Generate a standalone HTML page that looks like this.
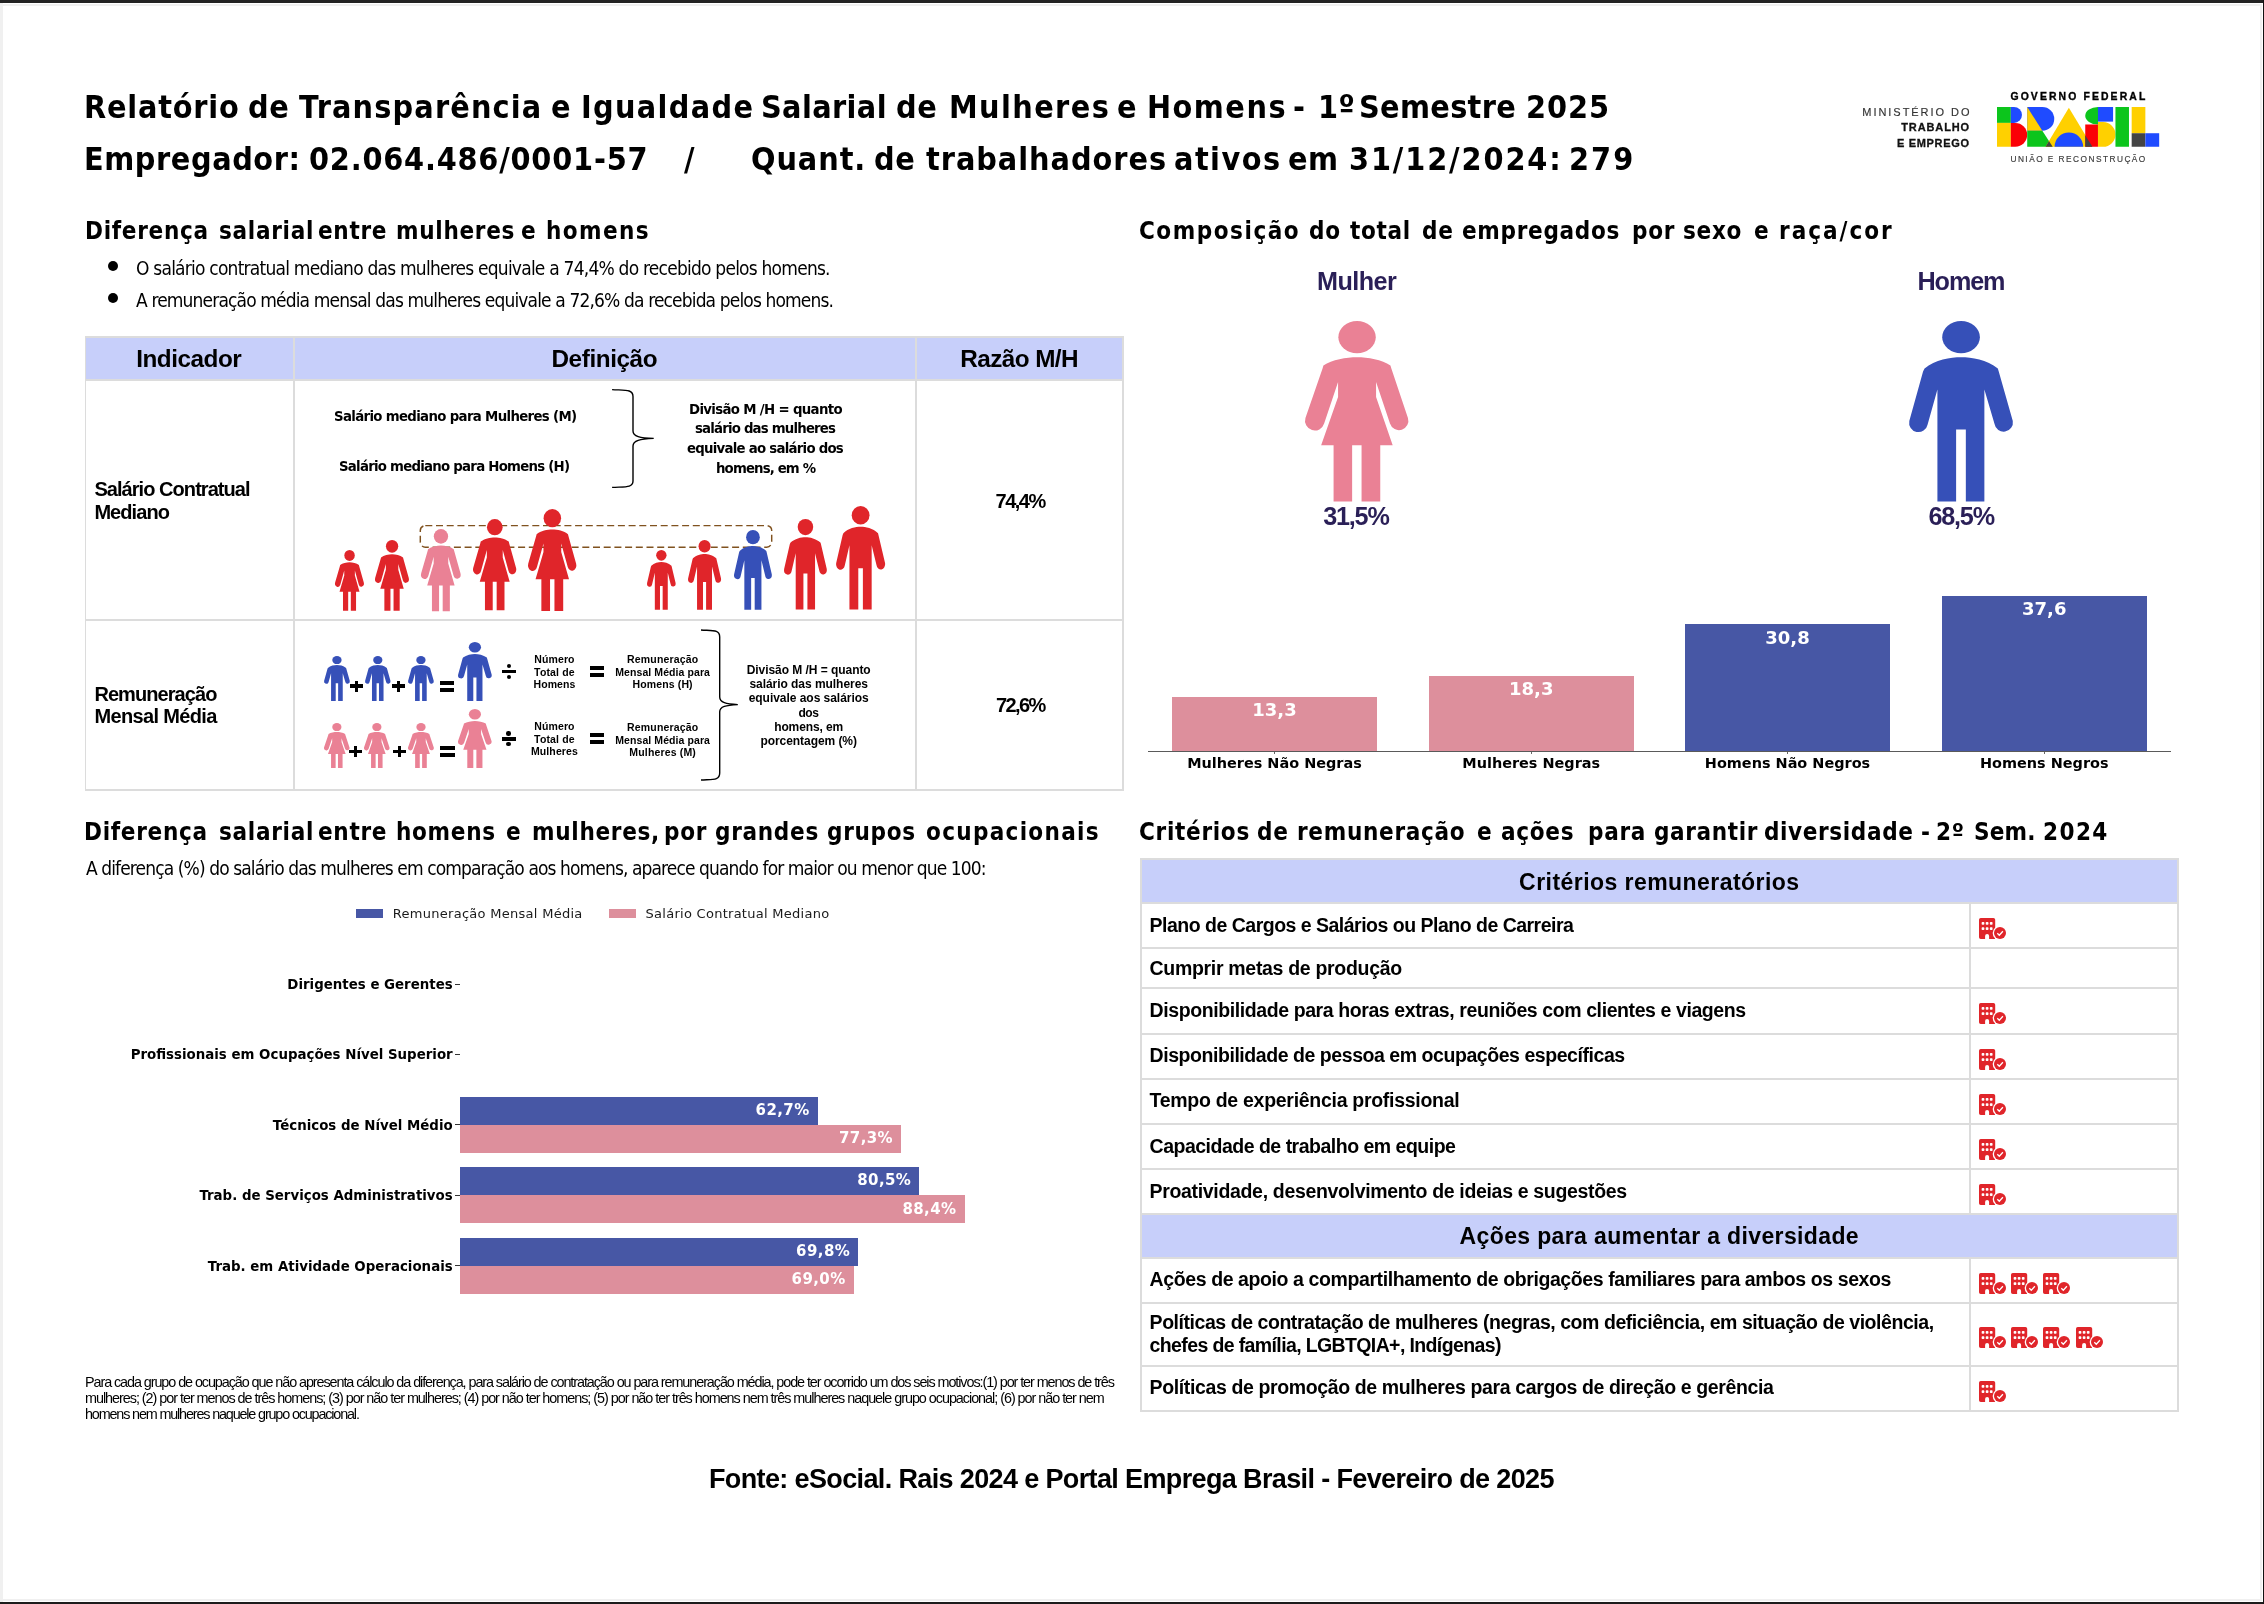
<!DOCTYPE html>
<html lang="pt-BR"><head><meta charset="utf-8"><title>Relatório de Transparência e Igualdade Salarial</title>
<style>
html,body{margin:0;padding:0;background:#fff;}
body{width:2264px;height:1604px;position:relative;overflow:hidden;font-family:"Liberation Sans",sans-serif;}
#pg{position:absolute;left:0;top:0;width:2264px;height:1604px;will-change:transform;}
.t{position:absolute;white-space:pre;display:block;}
svg{position:absolute;overflow:visible;}
</style></head><body><div id="pg">
<div style="position:absolute;left:0.00px;top:0.00px;width:2264.00px;height:3.00px;background:#222;"></div>
<div style="position:absolute;left:0.00px;top:1602.00px;width:2264.00px;height:2.00px;background:#1c1c1c;"></div>
<div style="position:absolute;left:2263.00px;top:0.00px;width:1.00px;height:1604.00px;background:#111;"></div>
<div style="position:absolute;left:0.00px;top:3.00px;width:3.00px;height:1599.00px;background:#f0f0f0;"></div>
<div style="position:absolute;left:3.00px;top:4.00px;width:2259.00px;height:2.00px;background:#f0f0f0;"></div>
<div style="position:absolute;left:3.00px;top:1599.00px;width:2259.00px;height:2.00px;background:#f0f0f0;"></div>
<div style="position:absolute;left:2260.00px;top:4.00px;width:2.00px;height:1597.00px;background:#f0f0f0;"></div>
<span class="t" style='left:84.49px;top:90.50px;font:700 32px/1 "DejaVu Sans", sans-serif;letter-spacing:0.881px;transform:scaleX(0.9);transform-origin:0 0;'>Relatório</span>
<span class="t" style='left:248.24px;top:90.50px;font:700 32px/1 "DejaVu Sans", sans-serif;letter-spacing:0.611px;transform:scaleX(0.9);transform-origin:0 0;'>de</span>
<span class="t" style='left:299.49px;top:90.50px;font:700 32px/1 "DejaVu Sans", sans-serif;letter-spacing:1.281px;transform:scaleX(0.9);transform-origin:0 0;'>Transparência</span>
<span class="t" style='left:550.74px;top:90.50px;font:700 32px/1 "DejaVu Sans", sans-serif;letter-spacing:0.611px;transform:scaleX(0.9);transform-origin:0 0;'>e</span>
<span class="t" style='left:580.74px;top:90.50px;font:700 32px/1 "DejaVu Sans", sans-serif;letter-spacing:1.483px;transform:scaleX(0.9);transform-origin:0 0;'>Igualdade</span>
<span class="t" style='left:761.24px;top:90.50px;font:700 32px/1 "DejaVu Sans", sans-serif;letter-spacing:0.422px;transform:scaleX(0.9);transform-origin:0 0;'>Salarial</span>
<span class="t" style='left:896.24px;top:90.50px;font:700 32px/1 "DejaVu Sans", sans-serif;letter-spacing:0.611px;transform:scaleX(0.9);transform-origin:0 0;'>de</span>
<span class="t" style='left:949.49px;top:90.50px;font:700 32px/1 "DejaVu Sans", sans-serif;letter-spacing:1.559px;transform:scaleX(0.9);transform-origin:0 0;'>Mulheres</span>
<span class="t" style='left:1116.99px;top:90.50px;font:700 32px/1 "DejaVu Sans", sans-serif;letter-spacing:0.611px;transform:scaleX(0.9);transform-origin:0 0;'>e</span>
<span class="t" style='left:1146.99px;top:90.50px;font:700 32px/1 "DejaVu Sans", sans-serif;letter-spacing:1.654px;transform:scaleX(0.9);transform-origin:0 0;'>Homens</span>
<span class="t" style='left:1293.24px;top:90.50px;font:700 32px/1 "DejaVu Sans", sans-serif;letter-spacing:0.611px;transform:scaleX(0.9);transform-origin:0 0;'>-</span>
<span class="t" style='left:1318.24px;top:90.50px;font:700 32px/1 "DejaVu Sans", sans-serif;letter-spacing:0.611px;transform:scaleX(0.9);transform-origin:0 0;'>1º</span>
<span class="t" style='left:1358.74px;top:90.50px;font:700 32px/1 "DejaVu Sans", sans-serif;letter-spacing:0.366px;transform:scaleX(0.9);transform-origin:0 0;'>Semestre</span>
<span class="t" style='left:1525.74px;top:90.50px;font:700 32px/1 "DejaVu Sans", sans-serif;letter-spacing:1.061px;transform:scaleX(0.9);transform-origin:0 0;'>2025</span>
<span class="t" style='left:84.49px;top:142.50px;font:700 32px/1 "DejaVu Sans", sans-serif;letter-spacing:0.646px;transform:scaleX(0.9);transform-origin:0 0;'>Empregador:</span>
<span class="t" style='left:309.49px;top:142.50px;font:700 32px/1 "DejaVu Sans", sans-serif;letter-spacing:0.890px;transform:scaleX(0.9);transform-origin:0 0;'>02.064.486/0001-57</span>
<span class="t" style='left:684.49px;top:142.50px;font:700 32px/1 "DejaVu Sans", sans-serif;letter-spacing:0.611px;transform:scaleX(0.9);transform-origin:0 0;'>/</span>
<span class="t" style='left:751.24px;top:142.50px;font:700 32px/1 "DejaVu Sans", sans-serif;letter-spacing:1.031px;transform:scaleX(0.9);transform-origin:0 0;'>Quant.</span>
<span class="t" style='left:874.49px;top:142.50px;font:700 32px/1 "DejaVu Sans", sans-serif;letter-spacing:0.611px;transform:scaleX(0.9);transform-origin:0 0;'>de</span>
<span class="t" style='left:925.74px;top:142.50px;font:700 32px/1 "DejaVu Sans", sans-serif;letter-spacing:1.063px;transform:scaleX(0.9);transform-origin:0 0;'>trabalhadores</span>
<span class="t" style='left:1174.49px;top:142.50px;font:700 32px/1 "DejaVu Sans", sans-serif;letter-spacing:1.610px;transform:scaleX(0.9);transform-origin:0 0;'>ativos</span>
<span class="t" style='left:1288.24px;top:142.50px;font:700 32px/1 "DejaVu Sans", sans-serif;letter-spacing:0.611px;transform:scaleX(0.9);transform-origin:0 0;'>em</span>
<span class="t" style='left:1349.49px;top:142.50px;font:700 32px/1 "DejaVu Sans", sans-serif;letter-spacing:2.100px;transform:scaleX(0.9);transform-origin:0 0;'>31/12/2024:</span>
<span class="t" style='left:1569.49px;top:142.50px;font:700 32px/1 "DejaVu Sans", sans-serif;letter-spacing:2.307px;transform:scaleX(0.9);transform-origin:0 0;'>279</span>
<svg style="left:1996.62px;top:107.37px" width="162.19" height="39.75" viewBox="985 235 1020 250" role="img" aria-label="BRASIL"><title>BRASIL</title>
<rect x="985" y="235" width="87" height="100" fill="#0cc51c"/>
<rect x="985" y="335" width="87" height="150" fill="#ffd000"/>
<path d="M1072 235H1092A50 50 0 0 1 1092 335H1072Z" fill="#1f4bff"/>
<path d="M1072 335H1100A75 75 0 0 1 1100 485H1072Z" fill="#fb0006"/>
<path d="M1175 235H1270A75 75 0 0 1 1270 385H1175Z" fill="#1f4bff"/>
<path d="M1175 235L1270 385H1175Z" fill="#ffd000"/>
<path d="M1175 385H1270L1335 485H1175Z" fill="#0cc51c"/>
<path d="M1437 240L1585 485H1290Z" fill="#ffd000"/>
<path d="M1290 485L1312 449L1335 485Z" fill="#444"/>
<path d="M1347 485A90 90 0 0 1 1527 485Z" fill="#1f4bff"/>
<path d="M1620 235A80 55 0 0 0 1620 345Z" fill="#0cc51c"/>
<rect x="1620" y="235" width="95" height="92" fill="#1f4bff"/>
<rect x="1540" y="345" width="80" height="140" fill="#fb0006"/>
<path d="M1540 485V412L1585 485Z" fill="#444"/>
<path d="M1620 330H1652A78 77.5 0 0 1 1652 485H1620Z" fill="#ffd000"/>
<rect x="1730" y="235" width="85" height="250" fill="#0cc51c"/>
<rect x="1832" y="235" width="86" height="165" fill="#ffd000"/>
<rect x="1832" y="400" width="86" height="85" fill="#444"/>
<rect x="1918" y="400" width="87" height="85" fill="#1f4bff"/>
</svg>
<span class="t" style='left:2010.46px;top:91.73px;font:700 10.4px/1 "Liberation Sans", sans-serif;letter-spacing:2.126px;-webkit-text-stroke:0.35px #000;'>GOVERNO FEDERAL</span>
<span class="t" style='left:2010.46px;top:154.91px;font:400 8.3px/1 "Liberation Sans", sans-serif;letter-spacing:1.468px;color:#3a3a3a;-webkit-text-stroke:0.15px #3a3a3a;'>UNIÃO E RECONSTRUÇÃO</span>
<span class="t" style='left:1862.26px;top:107.11px;font:400 11px/1 "Liberation Sans", sans-serif;letter-spacing:1.966px;color:#333;-webkit-text-stroke:0.15px #333;'>MINISTÉRIO DO</span>
<span class="t" style='left:1901.22px;top:122.22px;font:700 11px/1 "Liberation Sans", sans-serif;letter-spacing:0.883px;color:#111;-webkit-text-stroke:0.3px #111;'>TRABALHO</span>
<span class="t" style='left:1896.92px;top:137.64px;font:700 11px/1 "Liberation Sans", sans-serif;letter-spacing:0.696px;color:#111;-webkit-text-stroke:0.3px #111;'>E EMPREGO</span>
<span class="t" style='left:84.93px;top:219.25px;font:700 24px/1 "DejaVu Sans", sans-serif;letter-spacing:0.778px;transform:scaleX(0.9);transform-origin:0 0;'>Diferença</span>
<span class="t" style='left:218.68px;top:219.25px;font:700 24px/1 "DejaVu Sans", sans-serif;letter-spacing:0.778px;transform:scaleX(0.9);transform-origin:0 0;'>salarial</span>
<span class="t" style='left:318.18px;top:219.25px;font:700 24px/1 "DejaVu Sans", sans-serif;letter-spacing:0.778px;transform:scaleX(0.9);transform-origin:0 0;'>entre</span>
<span class="t" style='left:396.18px;top:219.25px;font:700 24px/1 "DejaVu Sans", sans-serif;letter-spacing:0.778px;transform:scaleX(0.9);transform-origin:0 0;'>mulheres</span>
<span class="t" style='left:521.18px;top:219.25px;font:700 24px/1 "DejaVu Sans", sans-serif;letter-spacing:0.778px;transform:scaleX(0.9);transform-origin:0 0;'>e</span>
<span class="t" style='left:546.18px;top:219.25px;font:700 24px/1 "DejaVu Sans", sans-serif;letter-spacing:1.562px;transform:scaleX(0.9);transform-origin:0 0;'>homens</span>
<div style="position:absolute;left:108px;top:261px;width:10px;height:10px;border-radius:50%;background:#000"></div>
<div style="position:absolute;left:108px;top:293px;width:10px;height:10px;border-radius:50%;background:#000"></div>
<span class="t" style='left:135.60px;top:259.00px;font:400 19px/1 "DejaVu Sans", sans-serif;letter-spacing:-0.875px;transform:scaleX(0.9);transform-origin:0 0;'>O salário contratual mediano das mulheres equivale a 74,4% do recebido pelos homens.</span>
<span class="t" style='left:136.30px;top:290.75px;font:400 19px/1 "DejaVu Sans", sans-serif;letter-spacing:-0.965px;transform:scaleX(0.9);transform-origin:0 0;'>A remuneração média mensal das mulheres equivale a 72,6% da recebida pelos homens.</span>
<div style="position:absolute;left:84.50px;top:336.20px;width:1039.50px;height:454.40px;background:#dcdcdc;"></div>
<div style="position:absolute;left:86.25px;top:337.75px;width:206.50px;height:41.25px;background:#c7cffa;"></div>
<div style="position:absolute;left:294.75px;top:337.75px;width:620.25px;height:41.25px;background:#c7cffa;"></div>
<div style="position:absolute;left:917.25px;top:337.75px;width:204.75px;height:41.25px;background:#c7cffa;"></div>
<div style="position:absolute;left:86.25px;top:380.75px;width:206.50px;height:238.25px;background:#fff;"></div>
<div style="position:absolute;left:294.75px;top:380.75px;width:620.25px;height:238.25px;background:#fff;"></div>
<div style="position:absolute;left:917.25px;top:380.75px;width:204.75px;height:238.25px;background:#fff;"></div>
<div style="position:absolute;left:86.25px;top:621.00px;width:206.50px;height:167.90px;background:#fff;"></div>
<div style="position:absolute;left:294.75px;top:621.00px;width:620.25px;height:167.90px;background:#fff;"></div>
<div style="position:absolute;left:917.25px;top:621.00px;width:204.75px;height:167.90px;background:#fff;"></div>
<span class="t" style='left:136.20px;top:347.30px;font:700 24.3px/1 "Liberation Sans", sans-serif;letter-spacing:-0.470px;'>Indicador</span>
<span class="t" style='left:551.50px;top:347.30px;font:700 24.3px/1 "Liberation Sans", sans-serif;letter-spacing:-0.422px;'>Definição</span>
<span class="t" style='left:960.25px;top:347.30px;font:700 24.3px/1 "Liberation Sans", sans-serif;letter-spacing:-0.570px;'>Razão M/H</span>
<span class="t" style='left:94.40px;top:478.60px;font:700 20px/1 "Liberation Sans", sans-serif;letter-spacing:-0.945px;'>Salário Contratual</span>
<span class="t" style='left:94.40px;top:501.60px;font:700 20px/1 "Liberation Sans", sans-serif;letter-spacing:-0.938px;'>Mediano</span>
<span class="t" style='left:94.40px;top:683.60px;font:700 20px/1 "Liberation Sans", sans-serif;letter-spacing:-0.928px;'>Remuneração</span>
<span class="t" style='left:94.40px;top:705.75px;font:700 20px/1 "Liberation Sans", sans-serif;letter-spacing:-0.641px;'>Mensal Média</span>
<span class="t" style='left:995.60px;top:491.10px;font:700 20px/1 "Liberation Sans", sans-serif;letter-spacing:-1.530px;'>74,4%</span>
<span class="t" style='left:996.00px;top:694.90px;font:700 20px/1 "Liberation Sans", sans-serif;letter-spacing:-1.630px;'>72,6%</span>
<span class="t" style='left:333.60px;top:408.70px;font:700 14.8px/1 "DejaVu Sans", sans-serif;letter-spacing:-0.737px;transform:scaleX(0.9);transform-origin:0 0;'>Salário mediano para Mulheres (M)</span>
<span class="t" style='left:339.40px;top:458.60px;font:700 14.8px/1 "DejaVu Sans", sans-serif;letter-spacing:-0.833px;transform:scaleX(0.9);transform-origin:0 0;'>Salário mediano para Homens (H)</span>
<span class="t" style='left:688.90px;top:402.00px;font:700 14.8px/1 "DejaVu Sans", sans-serif;letter-spacing:-0.739px;transform:scaleX(0.9);transform-origin:0 0;'>Divisão M /H = quanto</span>
<span class="t" style='left:695.20px;top:421.40px;font:700 14.8px/1 "DejaVu Sans", sans-serif;letter-spacing:-0.902px;transform:scaleX(0.9);transform-origin:0 0;'>salário das mulheres</span>
<span class="t" style='left:687.30px;top:441.10px;font:700 14.8px/1 "DejaVu Sans", sans-serif;letter-spacing:-0.832px;transform:scaleX(0.9);transform-origin:0 0;'>equivale ao salário dos</span>
<span class="t" style='left:715.70px;top:460.50px;font:700 14.8px/1 "DejaVu Sans", sans-serif;letter-spacing:-0.963px;transform:scaleX(0.9);transform-origin:0 0;'>homens, em %</span>
<svg style="left:0;top:0" width="2264" height="1604"><g fill="none" stroke="#000" stroke-width="1.4"><path d="M612.1 389.6C625 390.4 633 389 633 396.5L633 431C633 436.5 640 438 653.7 438.4C640 439 633 440.5 633 446L633 481C633 488 625 486.6 612.1 487.4"/><path d="M701 630C713 630.8 719.7 629.5 719.7 637L719.7 697C719.7 702.5 726 704 737.8 704.6C726 705.2 719.7 706.5 719.7 712L719.7 773C719.7 780.5 713 779.2 701 780"/></g><rect x="420.3" y="525.6" width="351.4" height="21.6" rx="5" ry="5" fill="none" stroke="#80521f" stroke-width="1.45" stroke-dasharray="7 3.7"/></svg>
<svg style="left:335.00px;top:550.00px" width="29.00" height="60.70" viewBox="0 0 1000 1000" preserveAspectRatio="none"><ellipse cx="502" cy="89.6" rx="180.4" ry="89.6" fill="#e0252a"/><path d="M177.5 247.1 C260 215 400 201.5 502 201.5 C604 201.5 744 215 824 247.1 L832 262 L992.8 537.3 A89.5 51.4 0 0 1 819.6 568.8 L685.4 338.3 L685.4 421.2 L845.6 688.2 L725.8 688.2 L725.8 1000 L545.5 1000 L545.5 688.2 L454.5 688.2 L454.5 1000 L275.6 1000 L275.6 688.2 L155.8 688.2 L318.9 421.2 L318.9 338.3 L184.7 568.8 A89.5 51.4 0 0 1 4.3 537.3 L170 262 Z" fill="#e0252a"/></svg>
<svg style="left:375.00px;top:540.00px" width="34.00" height="70.70" viewBox="0 0 1000 1000" preserveAspectRatio="none"><ellipse cx="502" cy="89.6" rx="180.4" ry="89.6" fill="#e0252a"/><path d="M177.5 247.1 C260 215 400 201.5 502 201.5 C604 201.5 744 215 824 247.1 L832 262 L992.8 537.3 A89.5 51.4 0 0 1 819.6 568.8 L685.4 338.3 L685.4 421.2 L845.6 688.2 L725.8 688.2 L725.8 1000 L545.5 1000 L545.5 688.2 L454.5 688.2 L454.5 1000 L275.6 1000 L275.6 688.2 L155.8 688.2 L318.9 421.2 L318.9 338.3 L184.7 568.8 A89.5 51.4 0 0 1 4.3 537.3 L170 262 Z" fill="#e0252a"/></svg>
<svg style="left:421.25px;top:528.50px" width="39.75" height="82.20" viewBox="0 0 1000 1000" preserveAspectRatio="none"><ellipse cx="502" cy="89.6" rx="180.4" ry="89.6" fill="#ea8195"/><path d="M177.5 247.1 C260 215 400 201.5 502 201.5 C604 201.5 744 215 824 247.1 L832 262 L992.8 537.3 A89.5 51.4 0 0 1 819.6 568.8 L685.4 338.3 L685.4 421.2 L845.6 688.2 L725.8 688.2 L725.8 1000 L545.5 1000 L545.5 688.2 L454.5 688.2 L454.5 1000 L275.6 1000 L275.6 688.2 L155.8 688.2 L318.9 421.2 L318.9 338.3 L184.7 568.8 A89.5 51.4 0 0 1 4.3 537.3 L170 262 Z" fill="#ea8195"/></svg>
<svg style="left:473.10px;top:519.40px" width="43.40" height="91.30" viewBox="0 0 1000 1000" preserveAspectRatio="none"><ellipse cx="502" cy="89.6" rx="180.4" ry="89.6" fill="#e0252a"/><path d="M177.5 247.1 C260 215 400 201.5 502 201.5 C604 201.5 744 215 824 247.1 L832 262 L992.8 537.3 A89.5 51.4 0 0 1 819.6 568.8 L685.4 338.3 L685.4 421.2 L845.6 688.2 L725.8 688.2 L725.8 1000 L545.5 1000 L545.5 688.2 L454.5 688.2 L454.5 1000 L275.6 1000 L275.6 688.2 L155.8 688.2 L318.9 421.2 L318.9 338.3 L184.7 568.8 A89.5 51.4 0 0 1 4.3 537.3 L170 262 Z" fill="#e0252a"/></svg>
<svg style="left:527.50px;top:508.75px" width="48.50" height="101.95" viewBox="0 0 1000 1000" preserveAspectRatio="none"><ellipse cx="502" cy="89.6" rx="180.4" ry="89.6" fill="#e0252a"/><path d="M177.5 247.1 C260 215 400 201.5 502 201.5 C604 201.5 744 215 824 247.1 L832 262 L992.8 537.3 A89.5 51.4 0 0 1 819.6 568.8 L685.4 338.3 L685.4 421.2 L845.6 688.2 L725.8 688.2 L725.8 1000 L545.5 1000 L545.5 688.2 L454.5 688.2 L454.5 1000 L275.6 1000 L275.6 688.2 L155.8 688.2 L318.9 421.2 L318.9 338.3 L184.7 568.8 A89.5 51.4 0 0 1 4.3 537.3 L170 262 Z" fill="#e0252a"/></svg>
<svg style="left:646.90px;top:549.75px" width="28.70" height="59.65" viewBox="0 0 1000 1000" preserveAspectRatio="none"><ellipse cx="500" cy="89.6" rx="181" ry="89.6" fill="#e0252a"/><path d="M149.4 263.7 C250 215 400 201.5 500 201.5 C600 201.5 750 215 853.4 263.7 L862.1 280.3 L997.1 553.9 A86.2 49.8 0 0 1 821.8 570.5 L724.1 379.8 L724.1 1000 L546 1000 L546 602 L452.6 602 L452.6 1000 L273 1000 L273 379.8 L178.2 574.6 A86.2 49.8 0 0 1 2.9 553.9 L135.1 280.3 Z" fill="#e0252a"/></svg>
<svg style="left:688.10px;top:539.75px" width="33.15" height="69.65" viewBox="0 0 1000 1000" preserveAspectRatio="none"><ellipse cx="500" cy="89.6" rx="181" ry="89.6" fill="#e0252a"/><path d="M149.4 263.7 C250 215 400 201.5 500 201.5 C600 201.5 750 215 853.4 263.7 L862.1 280.3 L997.1 553.9 A86.2 49.8 0 0 1 821.8 570.5 L724.1 379.8 L724.1 1000 L546 1000 L546 602 L452.6 602 L452.6 1000 L273 1000 L273 379.8 L178.2 574.6 A86.2 49.8 0 0 1 2.9 553.9 L135.1 280.3 Z" fill="#e0252a"/></svg>
<svg style="left:734.00px;top:529.60px" width="37.90" height="79.80" viewBox="0 0 1000 1000" preserveAspectRatio="none"><ellipse cx="500" cy="89.6" rx="181" ry="89.6" fill="#3650b8"/><path d="M149.4 263.7 C250 215 400 201.5 500 201.5 C600 201.5 750 215 853.4 263.7 L862.1 280.3 L997.1 553.9 A86.2 49.8 0 0 1 821.8 570.5 L724.1 379.8 L724.1 1000 L546 1000 L546 602 L452.6 602 L452.6 1000 L273 1000 L273 379.8 L178.2 574.6 A86.2 49.8 0 0 1 2.9 553.9 L135.1 280.3 Z" fill="#3650b8"/></svg>
<svg style="left:784.00px;top:519.00px" width="42.90" height="90.40" viewBox="0 0 1000 1000" preserveAspectRatio="none"><ellipse cx="500" cy="89.6" rx="181" ry="89.6" fill="#e0252a"/><path d="M149.4 263.7 C250 215 400 201.5 500 201.5 C600 201.5 750 215 853.4 263.7 L862.1 280.3 L997.1 553.9 A86.2 49.8 0 0 1 821.8 570.5 L724.1 379.8 L724.1 1000 L546 1000 L546 602 L452.6 602 L452.6 1000 L273 1000 L273 379.8 L178.2 574.6 A86.2 49.8 0 0 1 2.9 553.9 L135.1 280.3 Z" fill="#e0252a"/></svg>
<svg style="left:836.00px;top:505.90px" width="49.25" height="103.50" viewBox="0 0 1000 1000" preserveAspectRatio="none"><ellipse cx="500" cy="89.6" rx="181" ry="89.6" fill="#e0252a"/><path d="M149.4 263.7 C250 215 400 201.5 500 201.5 C600 201.5 750 215 853.4 263.7 L862.1 280.3 L997.1 553.9 A86.2 49.8 0 0 1 821.8 570.5 L724.1 379.8 L724.1 1000 L546 1000 L546 602 L452.6 602 L452.6 1000 L273 1000 L273 379.8 L178.2 574.6 A86.2 49.8 0 0 1 2.9 553.9 L135.1 280.3 Z" fill="#e0252a"/></svg>
<svg style="left:324.10px;top:655.90px" width="25.90" height="45.10" viewBox="0 0 1000 1000" preserveAspectRatio="none"><ellipse cx="500" cy="89.6" rx="181" ry="89.6" fill="#3650b8"/><path d="M149.4 263.7 C250 215 400 201.5 500 201.5 C600 201.5 750 215 853.4 263.7 L862.1 280.3 L997.1 553.9 A86.2 49.8 0 0 1 821.8 570.5 L724.1 379.8 L724.1 1000 L546 1000 L546 602 L452.6 602 L452.6 1000 L273 1000 L273 379.8 L178.2 574.6 A86.2 49.8 0 0 1 2.9 553.9 L135.1 280.3 Z" fill="#3650b8"/></svg>
<svg style="left:365.00px;top:655.90px" width="25.60" height="45.10" viewBox="0 0 1000 1000" preserveAspectRatio="none"><ellipse cx="500" cy="89.6" rx="181" ry="89.6" fill="#3650b8"/><path d="M149.4 263.7 C250 215 400 201.5 500 201.5 C600 201.5 750 215 853.4 263.7 L862.1 280.3 L997.1 553.9 A86.2 49.8 0 0 1 821.8 570.5 L724.1 379.8 L724.1 1000 L546 1000 L546 602 L452.6 602 L452.6 1000 L273 1000 L273 379.8 L178.2 574.6 A86.2 49.8 0 0 1 2.9 553.9 L135.1 280.3 Z" fill="#3650b8"/></svg>
<svg style="left:407.90px;top:655.90px" width="25.85" height="45.10" viewBox="0 0 1000 1000" preserveAspectRatio="none"><ellipse cx="500" cy="89.6" rx="181" ry="89.6" fill="#3650b8"/><path d="M149.4 263.7 C250 215 400 201.5 500 201.5 C600 201.5 750 215 853.4 263.7 L862.1 280.3 L997.1 553.9 A86.2 49.8 0 0 1 821.8 570.5 L724.1 379.8 L724.1 1000 L546 1000 L546 602 L452.6 602 L452.6 1000 L273 1000 L273 379.8 L178.2 574.6 A86.2 49.8 0 0 1 2.9 553.9 L135.1 280.3 Z" fill="#3650b8"/></svg>
<svg style="left:458.10px;top:641.90px" width="33.80" height="59.00" viewBox="0 0 1000 1000" preserveAspectRatio="none"><ellipse cx="500" cy="89.6" rx="181" ry="89.6" fill="#3650b8"/><path d="M149.4 263.7 C250 215 400 201.5 500 201.5 C600 201.5 750 215 853.4 263.7 L862.1 280.3 L997.1 553.9 A86.2 49.8 0 0 1 821.8 570.5 L724.1 379.8 L724.1 1000 L546 1000 L546 602 L452.6 602 L452.6 1000 L273 1000 L273 379.8 L178.2 574.6 A86.2 49.8 0 0 1 2.9 553.9 L135.1 280.3 Z" fill="#3650b8"/></svg>
<svg style="left:323.50px;top:723.10px" width="25.60" height="45.00" viewBox="0 0 1000 1000" preserveAspectRatio="none"><ellipse cx="502" cy="89.6" rx="180.4" ry="89.6" fill="#ea8195"/><path d="M177.5 247.1 C260 215 400 201.5 502 201.5 C604 201.5 744 215 824 247.1 L832 262 L992.8 537.3 A89.5 51.4 0 0 1 819.6 568.8 L685.4 338.3 L685.4 421.2 L845.6 688.2 L725.8 688.2 L725.8 1000 L545.5 1000 L545.5 688.2 L454.5 688.2 L454.5 1000 L275.6 1000 L275.6 688.2 L155.8 688.2 L318.9 421.2 L318.9 338.3 L184.7 568.8 A89.5 51.4 0 0 1 4.3 537.3 L170 262 Z" fill="#ea8195"/></svg>
<svg style="left:364.40px;top:723.10px" width="25.60" height="45.00" viewBox="0 0 1000 1000" preserveAspectRatio="none"><ellipse cx="502" cy="89.6" rx="180.4" ry="89.6" fill="#ea8195"/><path d="M177.5 247.1 C260 215 400 201.5 502 201.5 C604 201.5 744 215 824 247.1 L832 262 L992.8 537.3 A89.5 51.4 0 0 1 819.6 568.8 L685.4 338.3 L685.4 421.2 L845.6 688.2 L725.8 688.2 L725.8 1000 L545.5 1000 L545.5 688.2 L454.5 688.2 L454.5 1000 L275.6 1000 L275.6 688.2 L155.8 688.2 L318.9 421.2 L318.9 338.3 L184.7 568.8 A89.5 51.4 0 0 1 4.3 537.3 L170 262 Z" fill="#ea8195"/></svg>
<svg style="left:408.10px;top:723.10px" width="25.90" height="45.00" viewBox="0 0 1000 1000" preserveAspectRatio="none"><ellipse cx="502" cy="89.6" rx="180.4" ry="89.6" fill="#ea8195"/><path d="M177.5 247.1 C260 215 400 201.5 502 201.5 C604 201.5 744 215 824 247.1 L832 262 L992.8 537.3 A89.5 51.4 0 0 1 819.6 568.8 L685.4 338.3 L685.4 421.2 L845.6 688.2 L725.8 688.2 L725.8 1000 L545.5 1000 L545.5 688.2 L454.5 688.2 L454.5 1000 L275.6 1000 L275.6 688.2 L155.8 688.2 L318.9 421.2 L318.9 338.3 L184.7 568.8 A89.5 51.4 0 0 1 4.3 537.3 L170 262 Z" fill="#ea8195"/></svg>
<svg style="left:457.90px;top:709.00px" width="33.70" height="59.10" viewBox="0 0 1000 1000" preserveAspectRatio="none"><ellipse cx="502" cy="89.6" rx="180.4" ry="89.6" fill="#ea8195"/><path d="M177.5 247.1 C260 215 400 201.5 502 201.5 C604 201.5 744 215 824 247.1 L832 262 L992.8 537.3 A89.5 51.4 0 0 1 819.6 568.8 L685.4 338.3 L685.4 421.2 L845.6 688.2 L725.8 688.2 L725.8 1000 L545.5 1000 L545.5 688.2 L454.5 688.2 L454.5 1000 L275.6 1000 L275.6 688.2 L155.8 688.2 L318.9 421.2 L318.9 338.3 L184.7 568.8 A89.5 51.4 0 0 1 4.3 537.3 L170 262 Z" fill="#ea8195"/></svg>
<div style="position:absolute;left:350.30px;top:684.35px;width:12.60px;height:3.80px;background:#000;"></div>
<div style="position:absolute;left:354.70px;top:680.65px;width:3.80px;height:11.20px;background:#000;"></div>
<div style="position:absolute;left:392.20px;top:684.35px;width:12.60px;height:3.80px;background:#000;"></div>
<div style="position:absolute;left:396.60px;top:680.65px;width:3.80px;height:11.20px;background:#000;"></div>
<div style="position:absolute;left:440.20px;top:680.60px;width:14.20px;height:4.00px;background:#000;"></div>
<div style="position:absolute;left:440.20px;top:687.70px;width:14.20px;height:4.00px;background:#000;"></div>
<div style="position:absolute;left:501.75px;top:669.70px;width:14.00px;height:3.80px;background:#000;"></div>
<div style="position:absolute;left:506.55px;top:664.10px;width:4.4px;height:4.4px;border-radius:50%;background:#000"></div>
<div style="position:absolute;left:506.55px;top:674.70px;width:4.4px;height:4.4px;border-radius:50%;background:#000"></div>
<div style="position:absolute;left:590.10px;top:666.00px;width:14.20px;height:4.00px;background:#000;"></div>
<div style="position:absolute;left:590.10px;top:673.10px;width:14.20px;height:4.00px;background:#000;"></div>
<div style="position:absolute;left:349.30px;top:749.60px;width:12.60px;height:3.80px;background:#000;"></div>
<div style="position:absolute;left:353.70px;top:745.90px;width:3.80px;height:11.20px;background:#000;"></div>
<div style="position:absolute;left:393.10px;top:749.60px;width:12.60px;height:3.80px;background:#000;"></div>
<div style="position:absolute;left:397.50px;top:745.90px;width:3.80px;height:11.20px;background:#000;"></div>
<div style="position:absolute;left:440.40px;top:745.80px;width:14.20px;height:4.00px;background:#000;"></div>
<div style="position:absolute;left:440.40px;top:752.90px;width:14.20px;height:4.00px;background:#000;"></div>
<div style="position:absolute;left:501.50px;top:736.85px;width:14.00px;height:3.80px;background:#000;"></div>
<div style="position:absolute;left:506.30px;top:731.25px;width:4.4px;height:4.4px;border-radius:50%;background:#000"></div>
<div style="position:absolute;left:506.30px;top:741.85px;width:4.4px;height:4.4px;border-radius:50%;background:#000"></div>
<div style="position:absolute;left:590.10px;top:733.30px;width:14.20px;height:4.00px;background:#000;"></div>
<div style="position:absolute;left:590.10px;top:740.40px;width:14.20px;height:4.00px;background:#000;"></div>
<span class="t" style='left:534.27px;top:653.75px;font:700 10.5px/1 "Liberation Sans", sans-serif;letter-spacing:0.113px;'>Número</span>
<span class="t" style='left:534.10px;top:666.60px;font:700 10.5px/1 "Liberation Sans", sans-serif;letter-spacing:0.159px;'>Total de</span>
<span class="t" style='left:533.52px;top:678.75px;font:700 10.5px/1 "Liberation Sans", sans-serif;letter-spacing:0.062px;'>Homens</span>
<span class="t" style='left:534.27px;top:720.75px;font:700 10.5px/1 "Liberation Sans", sans-serif;letter-spacing:0.113px;'>Número</span>
<span class="t" style='left:534.10px;top:733.50px;font:700 10.5px/1 "Liberation Sans", sans-serif;letter-spacing:0.159px;'>Total de</span>
<span class="t" style='left:530.90px;top:746.40px;font:700 10.5px/1 "Liberation Sans", sans-serif;letter-spacing:0.127px;'>Mulheres</span>
<span class="t" style='left:627.10px;top:654.10px;font:700 10.5px/1 "Liberation Sans", sans-serif;letter-spacing:0.155px;'>Remuneração</span>
<span class="t" style='left:615.25px;top:667.00px;font:700 10.5px/1 "Liberation Sans", sans-serif;letter-spacing:0.083px;'>Mensal Média para</span>
<span class="t" style='left:632.60px;top:679.10px;font:700 10.5px/1 "Liberation Sans", sans-serif;letter-spacing:0.120px;'>Homens (H)</span>
<span class="t" style='left:627.10px;top:722.20px;font:700 10.5px/1 "Liberation Sans", sans-serif;letter-spacing:0.155px;'>Remuneração</span>
<span class="t" style='left:615.25px;top:735.40px;font:700 10.5px/1 "Liberation Sans", sans-serif;letter-spacing:0.083px;'>Mensal Média para</span>
<span class="t" style='left:629.35px;top:746.90px;font:700 10.5px/1 "Liberation Sans", sans-serif;letter-spacing:0.158px;'>Mulheres (M)</span>
<span class="t" style='left:746.70px;top:663.70px;font:700 12px/1 "Liberation Sans", sans-serif;letter-spacing:-0.051px;'>Divisão M /H = quanto</span>
<span class="t" style='left:749.45px;top:677.98px;font:700 12px/1 "Liberation Sans", sans-serif;letter-spacing:-0.047px;'>salário das mulheres</span>
<span class="t" style='left:748.70px;top:692.26px;font:700 12px/1 "Liberation Sans", sans-serif;letter-spacing:-0.037px;'>equivale aos salários</span>
<span class="t" style='left:798.45px;top:706.54px;font:700 12px/1 "Liberation Sans", sans-serif;letter-spacing:-0.422px;'>dos</span>
<span class="t" style='left:774.20px;top:720.82px;font:700 12px/1 "Liberation Sans", sans-serif;letter-spacing:-0.115px;'>homens, em</span>
<span class="t" style='left:760.45px;top:735.10px;font:700 12px/1 "Liberation Sans", sans-serif;letter-spacing:-0.061px;'>porcentagem (%)</span>
<span class="t" style='left:1139.18px;top:219.25px;font:700 24px/1 "DejaVu Sans", sans-serif;letter-spacing:1.686px;transform:scaleX(0.9);transform-origin:0 0;'>Composição</span>
<span class="t" style='left:1308.68px;top:219.25px;font:700 24px/1 "DejaVu Sans", sans-serif;letter-spacing:0.778px;transform:scaleX(0.9);transform-origin:0 0;'>do</span>
<span class="t" style='left:1350.28px;top:219.25px;font:700 24px/1 "DejaVu Sans", sans-serif;letter-spacing:0.778px;transform:scaleX(0.9);transform-origin:0 0;'>total</span>
<span class="t" style='left:1421.68px;top:219.25px;font:700 24px/1 "DejaVu Sans", sans-serif;letter-spacing:0.778px;transform:scaleX(0.9);transform-origin:0 0;'>de</span>
<span class="t" style='left:1462.43px;top:219.25px;font:700 24px/1 "DejaVu Sans", sans-serif;letter-spacing:0.778px;transform:scaleX(0.9);transform-origin:0 0;'>empregados</span>
<span class="t" style='left:1632.43px;top:219.25px;font:700 24px/1 "DejaVu Sans", sans-serif;letter-spacing:0.778px;transform:scaleX(0.9);transform-origin:0 0;'>por</span>
<span class="t" style='left:1683.18px;top:219.25px;font:700 24px/1 "DejaVu Sans", sans-serif;letter-spacing:0.778px;transform:scaleX(0.9);transform-origin:0 0;'>sexo</span>
<span class="t" style='left:1753.68px;top:219.25px;font:700 24px/1 "DejaVu Sans", sans-serif;letter-spacing:0.778px;transform:scaleX(0.9);transform-origin:0 0;'>e</span>
<span class="t" style='left:1778.68px;top:219.25px;font:700 24px/1 "DejaVu Sans", sans-serif;letter-spacing:2.196px;transform:scaleX(0.9);transform-origin:0 0;'>raça/cor</span>
<span class="t" style='left:1317.03px;top:269.00px;font:700 25.2px/1 "Liberation Sans", sans-serif;letter-spacing:-0.562px;color:#2a1f57;'>Mulher</span>
<span class="t" style='left:1917.50px;top:269.00px;font:700 25.2px/1 "Liberation Sans", sans-serif;letter-spacing:-1.094px;color:#2a1f57;'>Homem</span>
<svg style="left:1304.50px;top:321.20px" width="103.70" height="180.40" viewBox="0 0 1000 1000" preserveAspectRatio="none"><ellipse cx="502" cy="89.6" rx="180.4" ry="89.6" fill="#ea8195"/><path d="M177.5 247.1 C260 215 400 201.5 502 201.5 C604 201.5 744 215 824 247.1 L832 262 L992.8 537.3 A89.5 51.4 0 0 1 819.6 568.8 L685.4 338.3 L685.4 421.2 L845.6 688.2 L725.8 688.2 L725.8 1000 L545.5 1000 L545.5 688.2 L454.5 688.2 L454.5 1000 L275.6 1000 L275.6 688.2 L155.8 688.2 L318.9 421.2 L318.9 338.3 L184.7 568.8 A89.5 51.4 0 0 1 4.3 537.3 L170 262 Z" fill="#ea8195"/></svg>
<svg style="left:1909.10px;top:321.20px" width="104.10" height="180.40" viewBox="0 0 1000 1000" preserveAspectRatio="none"><ellipse cx="500" cy="89.6" rx="181" ry="89.6" fill="#3650b8"/><path d="M149.4 263.7 C250 215 400 201.5 500 201.5 C600 201.5 750 215 853.4 263.7 L862.1 280.3 L997.1 553.9 A86.2 49.8 0 0 1 821.8 570.5 L724.1 379.8 L724.1 1000 L546 1000 L546 602 L452.6 602 L452.6 1000 L273 1000 L273 379.8 L178.2 574.6 A86.2 49.8 0 0 1 2.9 553.9 L135.1 280.3 Z" fill="#3650b8"/></svg>
<span class="t" style='left:1323.15px;top:504.10px;font:700 25.2px/1 "Liberation Sans", sans-serif;letter-spacing:-1.180px;color:#2a1f57;'>31,5%</span>
<span class="t" style='left:1928.55px;top:504.10px;font:700 25.2px/1 "Liberation Sans", sans-serif;letter-spacing:-1.230px;color:#2a1f57;'>68,5%</span>
<div style="position:absolute;left:1172.00px;top:696.50px;width:205.00px;height:54.50px;background:#dd8f9c;"></div>
<span class="t" style='left:1252.29px;top:700.90px;font:700 18px/1 "DejaVu Sans", sans-serif;color:#fff;'>13,3</span>
<span class="t" style='left:1187.18px;top:755.50px;font:700 14.45px/1 "DejaVu Sans", sans-serif;'>Mulheres Não Negras</span>
<div style="position:absolute;left:1274.00px;top:751.50px;width:1.00px;height:2.20px;background:#666;"></div>
<div style="position:absolute;left:1428.75px;top:676.00px;width:205.00px;height:75.00px;background:#dd8f9c;"></div>
<span class="t" style='left:1509.04px;top:680.40px;font:700 18px/1 "DejaVu Sans", sans-serif;color:#fff;'>18,3</span>
<span class="t" style='left:1462.31px;top:755.50px;font:700 14.45px/1 "DejaVu Sans", sans-serif;'>Mulheres Negras</span>
<div style="position:absolute;left:1530.75px;top:751.50px;width:1.00px;height:2.20px;background:#666;"></div>
<div style="position:absolute;left:1685.00px;top:624.25px;width:205.00px;height:126.75px;background:#4757a5;"></div>
<span class="t" style='left:1765.29px;top:628.65px;font:700 18px/1 "DejaVu Sans", sans-serif;color:#fff;'>30,8</span>
<span class="t" style='left:1704.82px;top:755.50px;font:700 14.45px/1 "DejaVu Sans", sans-serif;'>Homens Não Negros</span>
<div style="position:absolute;left:1787.00px;top:751.50px;width:1.00px;height:2.20px;background:#666;"></div>
<div style="position:absolute;left:1941.75px;top:596.00px;width:205.00px;height:155.00px;background:#4757a5;"></div>
<span class="t" style='left:2022.04px;top:600.40px;font:700 18px/1 "DejaVu Sans", sans-serif;color:#fff;'>37,6</span>
<span class="t" style='left:1979.96px;top:755.50px;font:700 14.45px/1 "DejaVu Sans", sans-serif;'>Homens Negros</span>
<div style="position:absolute;left:2043.75px;top:751.50px;width:1.00px;height:2.20px;background:#666;"></div>
<div style="position:absolute;left:1147.50px;top:750.70px;width:1023.80px;height:1.10px;background:#5a5a5a;"></div>
<span class="t" style='left:84.43px;top:819.80px;font:700 24px/1 "DejaVu Sans", sans-serif;letter-spacing:0.778px;transform:scaleX(0.9);transform-origin:0 0;'>Diferença</span>
<span class="t" style='left:218.68px;top:819.80px;font:700 24px/1 "DejaVu Sans", sans-serif;letter-spacing:0.778px;transform:scaleX(0.9);transform-origin:0 0;'>salarial</span>
<span class="t" style='left:318.18px;top:819.80px;font:700 24px/1 "DejaVu Sans", sans-serif;letter-spacing:0.778px;transform:scaleX(0.9);transform-origin:0 0;'>entre</span>
<span class="t" style='left:396.18px;top:819.80px;font:700 24px/1 "DejaVu Sans", sans-serif;letter-spacing:0.778px;transform:scaleX(0.9);transform-origin:0 0;'>homens</span>
<span class="t" style='left:506.18px;top:819.80px;font:700 24px/1 "DejaVu Sans", sans-serif;letter-spacing:0.778px;transform:scaleX(0.9);transform-origin:0 0;'>e</span>
<span class="t" style='left:531.68px;top:819.80px;font:700 24px/1 "DejaVu Sans", sans-serif;letter-spacing:0.778px;transform:scaleX(0.9);transform-origin:0 0;'>mulheres,</span>
<span class="t" style='left:664.18px;top:819.80px;font:700 24px/1 "DejaVu Sans", sans-serif;letter-spacing:0.778px;transform:scaleX(0.9);transform-origin:0 0;'>por</span>
<span class="t" style='left:714.93px;top:819.80px;font:700 24px/1 "DejaVu Sans", sans-serif;letter-spacing:0.778px;transform:scaleX(0.9);transform-origin:0 0;'>grandes</span>
<span class="t" style='left:827.43px;top:819.80px;font:700 24px/1 "DejaVu Sans", sans-serif;letter-spacing:0.778px;transform:scaleX(0.9);transform-origin:0 0;'>grupos</span>
<span class="t" style='left:926.18px;top:819.80px;font:700 24px/1 "DejaVu Sans", sans-serif;letter-spacing:1.445px;transform:scaleX(0.9);transform-origin:0 0;'>ocupacionais</span>
<span class="t" style='left:85.60px;top:858.90px;font:400 19px/1 "DejaVu Sans", sans-serif;letter-spacing:-1.004px;transform:scaleX(0.9);transform-origin:0 0;'>A diferença (%) do salário das mulheres em comparação aos homens, aparece quando for maior ou menor que 100:</span>
<div style="position:absolute;left:355.80px;top:909.00px;width:27.10px;height:9.00px;background:#4757a5;"></div>
<div style="position:absolute;left:609.00px;top:909.00px;width:27.10px;height:9.00px;background:#dd8f9c;"></div>
<span class="t" style='left:392.80px;top:907.00px;font:400 13px/1 "DejaVu Sans", sans-serif;letter-spacing:0.279px;color:#1a1a1a;'>Remuneração Mensal Média</span>
<span class="t" style='left:645.60px;top:907.00px;font:400 13px/1 "DejaVu Sans", sans-serif;letter-spacing:0.268px;color:#1a1a1a;'>Salário Contratual Mediano</span>
<span class="t" style='left:287.37px;top:977.70px;font:700 13.36px/1 "DejaVu Sans", sans-serif;'>Dirigentes e Gerentes</span>
<div style="position:absolute;left:455.40px;top:983.50px;width:4.30px;height:1.10px;background:#333;"></div>
<span class="t" style='left:130.65px;top:1048.15px;font:700 13.36px/1 "DejaVu Sans", sans-serif;'>Profissionais em Ocupações Nível Superior</span>
<div style="position:absolute;left:455.40px;top:1053.95px;width:4.30px;height:1.10px;background:#333;"></div>
<span class="t" style='left:272.87px;top:1118.60px;font:700 13.36px/1 "DejaVu Sans", sans-serif;'>Técnicos de Nível Médio</span>
<div style="position:absolute;left:455.40px;top:1124.40px;width:4.30px;height:1.10px;background:#333;"></div>
<span class="t" style='left:199.39px;top:1189.05px;font:700 13.36px/1 "DejaVu Sans", sans-serif;'>Trab. de Serviços Administrativos</span>
<div style="position:absolute;left:455.40px;top:1194.85px;width:4.30px;height:1.10px;background:#333;"></div>
<span class="t" style='left:207.76px;top:1259.50px;font:700 13.36px/1 "DejaVu Sans", sans-serif;'>Trab. em Atividade Operacionais</span>
<div style="position:absolute;left:455.40px;top:1265.30px;width:4.30px;height:1.10px;background:#333;"></div>
<div style="position:absolute;left:459.50px;top:1096.90px;width:358.21px;height:27.90px;background:#4757a5;"></div>
<div style="position:absolute;left:459.50px;top:1124.80px;width:441.61px;height:28.10px;background:#dd8f9c;"></div>
<span class="t" style='left:755.56px;top:1103.00px;font:700 15px/1 "DejaVu Sans", sans-serif;letter-spacing:0.400px;color:#fff;'>62,7%</span>
<span class="t" style='left:838.97px;top:1131.20px;font:700 15px/1 "DejaVu Sans", sans-serif;letter-spacing:0.400px;color:#fff;'>77,3%</span>
<div style="position:absolute;left:459.50px;top:1167.35px;width:459.90px;height:27.90px;background:#4757a5;"></div>
<div style="position:absolute;left:459.50px;top:1195.25px;width:505.03px;height:28.10px;background:#dd8f9c;"></div>
<span class="t" style='left:857.25px;top:1173.45px;font:700 15px/1 "DejaVu Sans", sans-serif;letter-spacing:0.400px;color:#fff;'>80,5%</span>
<span class="t" style='left:902.38px;top:1201.65px;font:700 15px/1 "DejaVu Sans", sans-serif;letter-spacing:0.400px;color:#fff;'>88,4%</span>
<div style="position:absolute;left:459.50px;top:1237.80px;width:398.77px;height:27.90px;background:#4757a5;"></div>
<div style="position:absolute;left:459.50px;top:1265.70px;width:394.20px;height:28.10px;background:#dd8f9c;"></div>
<span class="t" style='left:796.12px;top:1243.90px;font:700 15px/1 "DejaVu Sans", sans-serif;letter-spacing:0.400px;color:#fff;'>69,8%</span>
<span class="t" style='left:791.55px;top:1272.10px;font:700 15px/1 "DejaVu Sans", sans-serif;letter-spacing:0.400px;color:#fff;'>69,0%</span>
<span class="t" style='left:85.00px;top:1375.00px;font:400 14.4px/1 "Liberation Sans", sans-serif;letter-spacing:-1.079px;'>Para cada grupo de ocupação que não apresenta cálculo da diferença, para salário de contratação ou para remuneração média, pode ter ocorrido um dos seis motivos:(1) por ter menos de três</span>
<span class="t" style='left:85.00px;top:1391.30px;font:400 14.4px/1 "Liberation Sans", sans-serif;letter-spacing:-1.034px;'>mulheres; (2) por ter menos de três homens; (3) por não ter mulheres; (4) por não ter homens; (5) por não ter três homens nem três mulheres naquele grupo ocupacional; (6) por não ter nem</span>
<span class="t" style='left:85.00px;top:1407.30px;font:400 14.4px/1 "Liberation Sans", sans-serif;letter-spacing:-1.162px;'>homens nem mulheres naquele grupo ocupacional.</span>
<span class="t" style='left:1139.18px;top:820.20px;font:700 24px/1 "DejaVu Sans", sans-serif;letter-spacing:0.778px;transform:scaleX(0.9);transform-origin:0 0;'>Critérios</span>
<span class="t" style='left:1257.43px;top:820.20px;font:700 24px/1 "DejaVu Sans", sans-serif;letter-spacing:0.778px;transform:scaleX(0.9);transform-origin:0 0;'>de</span>
<span class="t" style='left:1297.43px;top:820.20px;font:700 24px/1 "DejaVu Sans", sans-serif;letter-spacing:0.778px;transform:scaleX(0.9);transform-origin:0 0;'>remuneração</span>
<span class="t" style='left:1476.68px;top:820.20px;font:700 24px/1 "DejaVu Sans", sans-serif;letter-spacing:0.778px;transform:scaleX(0.9);transform-origin:0 0;'>e</span>
<span class="t" style='left:1501.18px;top:820.20px;font:700 24px/1 "DejaVu Sans", sans-serif;letter-spacing:0.778px;transform:scaleX(0.9);transform-origin:0 0;'>ações</span>
<span class="t" style='left:1588.18px;top:820.20px;font:700 24px/1 "DejaVu Sans", sans-serif;letter-spacing:0.778px;transform:scaleX(0.9);transform-origin:0 0;'>para</span>
<span class="t" style='left:1654.18px;top:820.20px;font:700 24px/1 "DejaVu Sans", sans-serif;letter-spacing:0.692px;transform:scaleX(0.9);transform-origin:0 0;'>garantir</span>
<span class="t" style='left:1763.68px;top:820.20px;font:700 24px/1 "DejaVu Sans", sans-serif;letter-spacing:0.692px;transform:scaleX(0.9);transform-origin:0 0;'>diversidade</span>
<span class="t" style='left:1921.18px;top:820.20px;font:700 24px/1 "DejaVu Sans", sans-serif;letter-spacing:0.778px;transform:scaleX(0.9);transform-origin:0 0;'>-</span>
<span class="t" style='left:1936.18px;top:820.20px;font:700 24px/1 "DejaVu Sans", sans-serif;letter-spacing:0.778px;transform:scaleX(0.9);transform-origin:0 0;'>2º</span>
<span class="t" style='left:1973.68px;top:820.20px;font:700 24px/1 "DejaVu Sans", sans-serif;letter-spacing:0.175px;transform:scaleX(0.9);transform-origin:0 0;'>Sem.</span>
<span class="t" style='left:2043.18px;top:820.20px;font:700 24px/1 "DejaVu Sans", sans-serif;letter-spacing:1.583px;transform:scaleX(0.9);transform-origin:0 0;'>2024</span>
<div style="position:absolute;left:1139.55px;top:858.05px;width:1039.65px;height:554.40px;background:#dcdcdc;"></div>
<div style="position:absolute;left:1141.95px;top:860.45px;width:1034.85px;height:41.35px;background:#c7cffa;"></div>
<span class="t" style='left:1519.10px;top:870.60px;font:700 23px/1 "Liberation Sans", sans-serif;letter-spacing:0.448px;'>Critérios remuneratórios</span>
<div style="position:absolute;left:1141.95px;top:904.20px;width:826.85px;height:42.70px;background:#fff;"></div>
<div style="position:absolute;left:1971.20px;top:904.20px;width:205.60px;height:42.70px;background:#fff;"></div>
<span class="t" style='left:1149.60px;top:916.00px;font:700 19.5px/1 "Liberation Sans", sans-serif;letter-spacing:-0.506px;'>Plano de Cargos e Salários ou Plano de Carreira</span>
<svg style="left:1978.90px;top:917.95px" width="28" height="22" viewBox="0 0 28 22"><path fill="#e0252a" d="M1.8 0H14.4A1.8 1.8 0 0 1 16.2 1.8V21H10.1V17.9A2 2 0 0 0 6.1 17.9V21H1.8A1.8 1.8 0 0 1 0 19.2V1.8A1.8 1.8 0 0 1 1.8 0Z"/><rect x="2.65" y="4.05" width="2.7" height="2.7" rx="0.8" fill="#fff"/><rect x="2.65" y="9.25" width="2.7" height="2.7" rx="0.8" fill="#fff"/><rect x="6.75" y="4.05" width="2.7" height="2.7" rx="0.8" fill="#fff"/><rect x="6.75" y="9.25" width="2.7" height="2.7" rx="0.8" fill="#fff"/><rect x="10.85" y="4.05" width="2.7" height="2.7" rx="0.8" fill="#fff"/><rect x="10.85" y="9.25" width="2.7" height="2.7" rx="0.8" fill="#fff"/><circle cx="21" cy="15.1" r="7.3" fill="#fff"/><circle cx="21" cy="15.1" r="6.0" fill="#e0252a"/><path d="M18.3 15.2L20.3 17.2L23.9 13.3" fill="none" stroke="#fff" stroke-width="1.3"/></svg>
<div style="position:absolute;left:1141.95px;top:949.30px;width:826.85px;height:37.75px;background:#fff;"></div>
<div style="position:absolute;left:1971.20px;top:949.30px;width:205.60px;height:37.75px;background:#fff;"></div>
<span class="t" style='left:1149.60px;top:959.00px;font:700 19.5px/1 "Liberation Sans", sans-serif;letter-spacing:-0.313px;'>Cumprir metas de produção</span>
<div style="position:absolute;left:1141.95px;top:989.45px;width:826.85px;height:43.10px;background:#fff;"></div>
<div style="position:absolute;left:1971.20px;top:989.45px;width:205.60px;height:43.10px;background:#fff;"></div>
<span class="t" style='left:1149.60px;top:1001.00px;font:700 19.5px/1 "Liberation Sans", sans-serif;letter-spacing:-0.409px;'>Disponibilidade para horas extras, reuniões com clientes e viagens</span>
<svg style="left:1978.90px;top:1003.40px" width="28" height="22" viewBox="0 0 28 22"><path fill="#e0252a" d="M1.8 0H14.4A1.8 1.8 0 0 1 16.2 1.8V21H10.1V17.9A2 2 0 0 0 6.1 17.9V21H1.8A1.8 1.8 0 0 1 0 19.2V1.8A1.8 1.8 0 0 1 1.8 0Z"/><rect x="2.65" y="4.05" width="2.7" height="2.7" rx="0.8" fill="#fff"/><rect x="2.65" y="9.25" width="2.7" height="2.7" rx="0.8" fill="#fff"/><rect x="6.75" y="4.05" width="2.7" height="2.7" rx="0.8" fill="#fff"/><rect x="6.75" y="9.25" width="2.7" height="2.7" rx="0.8" fill="#fff"/><rect x="10.85" y="4.05" width="2.7" height="2.7" rx="0.8" fill="#fff"/><rect x="10.85" y="9.25" width="2.7" height="2.7" rx="0.8" fill="#fff"/><circle cx="21" cy="15.1" r="7.3" fill="#fff"/><circle cx="21" cy="15.1" r="6.0" fill="#e0252a"/><path d="M18.3 15.2L20.3 17.2L23.9 13.3" fill="none" stroke="#fff" stroke-width="1.3"/></svg>
<div style="position:absolute;left:1141.95px;top:1034.95px;width:826.85px;height:42.60px;background:#fff;"></div>
<div style="position:absolute;left:1971.20px;top:1034.95px;width:205.60px;height:42.60px;background:#fff;"></div>
<span class="t" style='left:1149.60px;top:1046.00px;font:700 19.5px/1 "Liberation Sans", sans-serif;letter-spacing:-0.447px;'>Disponibilidade de pessoa em ocupações específicas</span>
<svg style="left:1978.90px;top:1048.65px" width="28" height="22" viewBox="0 0 28 22"><path fill="#e0252a" d="M1.8 0H14.4A1.8 1.8 0 0 1 16.2 1.8V21H10.1V17.9A2 2 0 0 0 6.1 17.9V21H1.8A1.8 1.8 0 0 1 0 19.2V1.8A1.8 1.8 0 0 1 1.8 0Z"/><rect x="2.65" y="4.05" width="2.7" height="2.7" rx="0.8" fill="#fff"/><rect x="2.65" y="9.25" width="2.7" height="2.7" rx="0.8" fill="#fff"/><rect x="6.75" y="4.05" width="2.7" height="2.7" rx="0.8" fill="#fff"/><rect x="6.75" y="9.25" width="2.7" height="2.7" rx="0.8" fill="#fff"/><rect x="10.85" y="4.05" width="2.7" height="2.7" rx="0.8" fill="#fff"/><rect x="10.85" y="9.25" width="2.7" height="2.7" rx="0.8" fill="#fff"/><circle cx="21" cy="15.1" r="7.3" fill="#fff"/><circle cx="21" cy="15.1" r="6.0" fill="#e0252a"/><path d="M18.3 15.2L20.3 17.2L23.9 13.3" fill="none" stroke="#fff" stroke-width="1.3"/></svg>
<div style="position:absolute;left:1141.95px;top:1079.95px;width:826.85px;height:43.10px;background:#fff;"></div>
<div style="position:absolute;left:1971.20px;top:1079.95px;width:205.60px;height:43.10px;background:#fff;"></div>
<span class="t" style='left:1149.60px;top:1090.75px;font:700 19.5px/1 "Liberation Sans", sans-serif;letter-spacing:-0.289px;'>Tempo de experiência profissional</span>
<svg style="left:1978.90px;top:1093.90px" width="28" height="22" viewBox="0 0 28 22"><path fill="#e0252a" d="M1.8 0H14.4A1.8 1.8 0 0 1 16.2 1.8V21H10.1V17.9A2 2 0 0 0 6.1 17.9V21H1.8A1.8 1.8 0 0 1 0 19.2V1.8A1.8 1.8 0 0 1 1.8 0Z"/><rect x="2.65" y="4.05" width="2.7" height="2.7" rx="0.8" fill="#fff"/><rect x="2.65" y="9.25" width="2.7" height="2.7" rx="0.8" fill="#fff"/><rect x="6.75" y="4.05" width="2.7" height="2.7" rx="0.8" fill="#fff"/><rect x="6.75" y="9.25" width="2.7" height="2.7" rx="0.8" fill="#fff"/><rect x="10.85" y="4.05" width="2.7" height="2.7" rx="0.8" fill="#fff"/><rect x="10.85" y="9.25" width="2.7" height="2.7" rx="0.8" fill="#fff"/><circle cx="21" cy="15.1" r="7.3" fill="#fff"/><circle cx="21" cy="15.1" r="6.0" fill="#e0252a"/><path d="M18.3 15.2L20.3 17.2L23.9 13.3" fill="none" stroke="#fff" stroke-width="1.3"/></svg>
<div style="position:absolute;left:1141.95px;top:1125.45px;width:826.85px;height:42.60px;background:#fff;"></div>
<div style="position:absolute;left:1971.20px;top:1125.45px;width:205.60px;height:42.60px;background:#fff;"></div>
<span class="t" style='left:1149.60px;top:1137.00px;font:700 19.5px/1 "Liberation Sans", sans-serif;letter-spacing:-0.501px;'>Capacidade de trabalho em equipe</span>
<svg style="left:1978.90px;top:1139.15px" width="28" height="22" viewBox="0 0 28 22"><path fill="#e0252a" d="M1.8 0H14.4A1.8 1.8 0 0 1 16.2 1.8V21H10.1V17.9A2 2 0 0 0 6.1 17.9V21H1.8A1.8 1.8 0 0 1 0 19.2V1.8A1.8 1.8 0 0 1 1.8 0Z"/><rect x="2.65" y="4.05" width="2.7" height="2.7" rx="0.8" fill="#fff"/><rect x="2.65" y="9.25" width="2.7" height="2.7" rx="0.8" fill="#fff"/><rect x="6.75" y="4.05" width="2.7" height="2.7" rx="0.8" fill="#fff"/><rect x="6.75" y="9.25" width="2.7" height="2.7" rx="0.8" fill="#fff"/><rect x="10.85" y="4.05" width="2.7" height="2.7" rx="0.8" fill="#fff"/><rect x="10.85" y="9.25" width="2.7" height="2.7" rx="0.8" fill="#fff"/><circle cx="21" cy="15.1" r="7.3" fill="#fff"/><circle cx="21" cy="15.1" r="6.0" fill="#e0252a"/><path d="M18.3 15.2L20.3 17.2L23.9 13.3" fill="none" stroke="#fff" stroke-width="1.3"/></svg>
<div style="position:absolute;left:1141.95px;top:1170.45px;width:826.85px;height:42.60px;background:#fff;"></div>
<div style="position:absolute;left:1971.20px;top:1170.45px;width:205.60px;height:42.60px;background:#fff;"></div>
<span class="t" style='left:1149.60px;top:1181.50px;font:700 19.5px/1 "Liberation Sans", sans-serif;letter-spacing:-0.333px;'>Proatividade, desenvolvimento de ideias e sugestões</span>
<svg style="left:1978.90px;top:1184.15px" width="28" height="22" viewBox="0 0 28 22"><path fill="#e0252a" d="M1.8 0H14.4A1.8 1.8 0 0 1 16.2 1.8V21H10.1V17.9A2 2 0 0 0 6.1 17.9V21H1.8A1.8 1.8 0 0 1 0 19.2V1.8A1.8 1.8 0 0 1 1.8 0Z"/><rect x="2.65" y="4.05" width="2.7" height="2.7" rx="0.8" fill="#fff"/><rect x="2.65" y="9.25" width="2.7" height="2.7" rx="0.8" fill="#fff"/><rect x="6.75" y="4.05" width="2.7" height="2.7" rx="0.8" fill="#fff"/><rect x="6.75" y="9.25" width="2.7" height="2.7" rx="0.8" fill="#fff"/><rect x="10.85" y="4.05" width="2.7" height="2.7" rx="0.8" fill="#fff"/><rect x="10.85" y="9.25" width="2.7" height="2.7" rx="0.8" fill="#fff"/><circle cx="21" cy="15.1" r="7.3" fill="#fff"/><circle cx="21" cy="15.1" r="6.0" fill="#e0252a"/><path d="M18.3 15.2L20.3 17.2L23.9 13.3" fill="none" stroke="#fff" stroke-width="1.3"/></svg>
<div style="position:absolute;left:1141.95px;top:1215.45px;width:1034.85px;height:41.35px;background:#c7cffa;"></div>
<span class="t" style='left:1459.60px;top:1225.30px;font:700 23px/1 "Liberation Sans", sans-serif;letter-spacing:0.364px;'>Ações para aumentar a diversidade</span>
<div style="position:absolute;left:1141.95px;top:1259.20px;width:826.85px;height:42.60px;background:#fff;"></div>
<div style="position:absolute;left:1971.20px;top:1259.20px;width:205.60px;height:42.60px;background:#fff;"></div>
<span class="t" style='left:1149.60px;top:1270.25px;font:700 19.5px/1 "Liberation Sans", sans-serif;letter-spacing:-0.401px;'>Ações de apoio a compartilhamento de obrigações familiares para ambos os sexos</span>
<svg style="left:1978.90px;top:1272.90px" width="28" height="22" viewBox="0 0 28 22"><path fill="#e0252a" d="M1.8 0H14.4A1.8 1.8 0 0 1 16.2 1.8V21H10.1V17.9A2 2 0 0 0 6.1 17.9V21H1.8A1.8 1.8 0 0 1 0 19.2V1.8A1.8 1.8 0 0 1 1.8 0Z"/><rect x="2.65" y="4.05" width="2.7" height="2.7" rx="0.8" fill="#fff"/><rect x="2.65" y="9.25" width="2.7" height="2.7" rx="0.8" fill="#fff"/><rect x="6.75" y="4.05" width="2.7" height="2.7" rx="0.8" fill="#fff"/><rect x="6.75" y="9.25" width="2.7" height="2.7" rx="0.8" fill="#fff"/><rect x="10.85" y="4.05" width="2.7" height="2.7" rx="0.8" fill="#fff"/><rect x="10.85" y="9.25" width="2.7" height="2.7" rx="0.8" fill="#fff"/><circle cx="21" cy="15.1" r="7.3" fill="#fff"/><circle cx="21" cy="15.1" r="6.0" fill="#e0252a"/><path d="M18.3 15.2L20.3 17.2L23.9 13.3" fill="none" stroke="#fff" stroke-width="1.3"/></svg>
<svg style="left:2011.15px;top:1272.90px" width="28" height="22" viewBox="0 0 28 22"><path fill="#e0252a" d="M1.8 0H14.4A1.8 1.8 0 0 1 16.2 1.8V21H10.1V17.9A2 2 0 0 0 6.1 17.9V21H1.8A1.8 1.8 0 0 1 0 19.2V1.8A1.8 1.8 0 0 1 1.8 0Z"/><rect x="2.65" y="4.05" width="2.7" height="2.7" rx="0.8" fill="#fff"/><rect x="2.65" y="9.25" width="2.7" height="2.7" rx="0.8" fill="#fff"/><rect x="6.75" y="4.05" width="2.7" height="2.7" rx="0.8" fill="#fff"/><rect x="6.75" y="9.25" width="2.7" height="2.7" rx="0.8" fill="#fff"/><rect x="10.85" y="4.05" width="2.7" height="2.7" rx="0.8" fill="#fff"/><rect x="10.85" y="9.25" width="2.7" height="2.7" rx="0.8" fill="#fff"/><circle cx="21" cy="15.1" r="7.3" fill="#fff"/><circle cx="21" cy="15.1" r="6.0" fill="#e0252a"/><path d="M18.3 15.2L20.3 17.2L23.9 13.3" fill="none" stroke="#fff" stroke-width="1.3"/></svg>
<svg style="left:2043.40px;top:1272.90px" width="28" height="22" viewBox="0 0 28 22"><path fill="#e0252a" d="M1.8 0H14.4A1.8 1.8 0 0 1 16.2 1.8V21H10.1V17.9A2 2 0 0 0 6.1 17.9V21H1.8A1.8 1.8 0 0 1 0 19.2V1.8A1.8 1.8 0 0 1 1.8 0Z"/><rect x="2.65" y="4.05" width="2.7" height="2.7" rx="0.8" fill="#fff"/><rect x="2.65" y="9.25" width="2.7" height="2.7" rx="0.8" fill="#fff"/><rect x="6.75" y="4.05" width="2.7" height="2.7" rx="0.8" fill="#fff"/><rect x="6.75" y="9.25" width="2.7" height="2.7" rx="0.8" fill="#fff"/><rect x="10.85" y="4.05" width="2.7" height="2.7" rx="0.8" fill="#fff"/><rect x="10.85" y="9.25" width="2.7" height="2.7" rx="0.8" fill="#fff"/><circle cx="21" cy="15.1" r="7.3" fill="#fff"/><circle cx="21" cy="15.1" r="6.0" fill="#e0252a"/><path d="M18.3 15.2L20.3 17.2L23.9 13.3" fill="none" stroke="#fff" stroke-width="1.3"/></svg>
<div style="position:absolute;left:1141.95px;top:1304.20px;width:826.85px;height:60.85px;background:#fff;"></div>
<div style="position:absolute;left:1971.20px;top:1304.20px;width:205.60px;height:60.85px;background:#fff;"></div>
<span class="t" style='left:1149.60px;top:1313.25px;font:700 19.5px/1 "Liberation Sans", sans-serif;letter-spacing:-0.450px;'>Políticas de contratação de mulheres (negras, com deficiência, em situação de violência,</span>
<span class="t" style='left:1149.60px;top:1336.00px;font:700 19.5px/1 "Liberation Sans", sans-serif;letter-spacing:-0.623px;'>chefes de família, LGBTQIA+, Indígenas)</span>
<svg style="left:1978.90px;top:1327.03px" width="28" height="22" viewBox="0 0 28 22"><path fill="#e0252a" d="M1.8 0H14.4A1.8 1.8 0 0 1 16.2 1.8V21H10.1V17.9A2 2 0 0 0 6.1 17.9V21H1.8A1.8 1.8 0 0 1 0 19.2V1.8A1.8 1.8 0 0 1 1.8 0Z"/><rect x="2.65" y="4.05" width="2.7" height="2.7" rx="0.8" fill="#fff"/><rect x="2.65" y="9.25" width="2.7" height="2.7" rx="0.8" fill="#fff"/><rect x="6.75" y="4.05" width="2.7" height="2.7" rx="0.8" fill="#fff"/><rect x="6.75" y="9.25" width="2.7" height="2.7" rx="0.8" fill="#fff"/><rect x="10.85" y="4.05" width="2.7" height="2.7" rx="0.8" fill="#fff"/><rect x="10.85" y="9.25" width="2.7" height="2.7" rx="0.8" fill="#fff"/><circle cx="21" cy="15.1" r="7.3" fill="#fff"/><circle cx="21" cy="15.1" r="6.0" fill="#e0252a"/><path d="M18.3 15.2L20.3 17.2L23.9 13.3" fill="none" stroke="#fff" stroke-width="1.3"/></svg>
<svg style="left:2011.15px;top:1327.03px" width="28" height="22" viewBox="0 0 28 22"><path fill="#e0252a" d="M1.8 0H14.4A1.8 1.8 0 0 1 16.2 1.8V21H10.1V17.9A2 2 0 0 0 6.1 17.9V21H1.8A1.8 1.8 0 0 1 0 19.2V1.8A1.8 1.8 0 0 1 1.8 0Z"/><rect x="2.65" y="4.05" width="2.7" height="2.7" rx="0.8" fill="#fff"/><rect x="2.65" y="9.25" width="2.7" height="2.7" rx="0.8" fill="#fff"/><rect x="6.75" y="4.05" width="2.7" height="2.7" rx="0.8" fill="#fff"/><rect x="6.75" y="9.25" width="2.7" height="2.7" rx="0.8" fill="#fff"/><rect x="10.85" y="4.05" width="2.7" height="2.7" rx="0.8" fill="#fff"/><rect x="10.85" y="9.25" width="2.7" height="2.7" rx="0.8" fill="#fff"/><circle cx="21" cy="15.1" r="7.3" fill="#fff"/><circle cx="21" cy="15.1" r="6.0" fill="#e0252a"/><path d="M18.3 15.2L20.3 17.2L23.9 13.3" fill="none" stroke="#fff" stroke-width="1.3"/></svg>
<svg style="left:2043.40px;top:1327.03px" width="28" height="22" viewBox="0 0 28 22"><path fill="#e0252a" d="M1.8 0H14.4A1.8 1.8 0 0 1 16.2 1.8V21H10.1V17.9A2 2 0 0 0 6.1 17.9V21H1.8A1.8 1.8 0 0 1 0 19.2V1.8A1.8 1.8 0 0 1 1.8 0Z"/><rect x="2.65" y="4.05" width="2.7" height="2.7" rx="0.8" fill="#fff"/><rect x="2.65" y="9.25" width="2.7" height="2.7" rx="0.8" fill="#fff"/><rect x="6.75" y="4.05" width="2.7" height="2.7" rx="0.8" fill="#fff"/><rect x="6.75" y="9.25" width="2.7" height="2.7" rx="0.8" fill="#fff"/><rect x="10.85" y="4.05" width="2.7" height="2.7" rx="0.8" fill="#fff"/><rect x="10.85" y="9.25" width="2.7" height="2.7" rx="0.8" fill="#fff"/><circle cx="21" cy="15.1" r="7.3" fill="#fff"/><circle cx="21" cy="15.1" r="6.0" fill="#e0252a"/><path d="M18.3 15.2L20.3 17.2L23.9 13.3" fill="none" stroke="#fff" stroke-width="1.3"/></svg>
<svg style="left:2075.65px;top:1327.03px" width="28" height="22" viewBox="0 0 28 22"><path fill="#e0252a" d="M1.8 0H14.4A1.8 1.8 0 0 1 16.2 1.8V21H10.1V17.9A2 2 0 0 0 6.1 17.9V21H1.8A1.8 1.8 0 0 1 0 19.2V1.8A1.8 1.8 0 0 1 1.8 0Z"/><rect x="2.65" y="4.05" width="2.7" height="2.7" rx="0.8" fill="#fff"/><rect x="2.65" y="9.25" width="2.7" height="2.7" rx="0.8" fill="#fff"/><rect x="6.75" y="4.05" width="2.7" height="2.7" rx="0.8" fill="#fff"/><rect x="6.75" y="9.25" width="2.7" height="2.7" rx="0.8" fill="#fff"/><rect x="10.85" y="4.05" width="2.7" height="2.7" rx="0.8" fill="#fff"/><rect x="10.85" y="9.25" width="2.7" height="2.7" rx="0.8" fill="#fff"/><circle cx="21" cy="15.1" r="7.3" fill="#fff"/><circle cx="21" cy="15.1" r="6.0" fill="#e0252a"/><path d="M18.3 15.2L20.3 17.2L23.9 13.3" fill="none" stroke="#fff" stroke-width="1.3"/></svg>
<div style="position:absolute;left:1141.95px;top:1367.45px;width:826.85px;height:42.60px;background:#fff;"></div>
<div style="position:absolute;left:1971.20px;top:1367.45px;width:205.60px;height:42.60px;background:#fff;"></div>
<span class="t" style='left:1149.60px;top:1378.25px;font:700 19.5px/1 "Liberation Sans", sans-serif;letter-spacing:-0.377px;'>Políticas de promoção de mulheres para cargos de direção e gerência</span>
<svg style="left:1978.90px;top:1381.15px" width="28" height="22" viewBox="0 0 28 22"><path fill="#e0252a" d="M1.8 0H14.4A1.8 1.8 0 0 1 16.2 1.8V21H10.1V17.9A2 2 0 0 0 6.1 17.9V21H1.8A1.8 1.8 0 0 1 0 19.2V1.8A1.8 1.8 0 0 1 1.8 0Z"/><rect x="2.65" y="4.05" width="2.7" height="2.7" rx="0.8" fill="#fff"/><rect x="2.65" y="9.25" width="2.7" height="2.7" rx="0.8" fill="#fff"/><rect x="6.75" y="4.05" width="2.7" height="2.7" rx="0.8" fill="#fff"/><rect x="6.75" y="9.25" width="2.7" height="2.7" rx="0.8" fill="#fff"/><rect x="10.85" y="4.05" width="2.7" height="2.7" rx="0.8" fill="#fff"/><rect x="10.85" y="9.25" width="2.7" height="2.7" rx="0.8" fill="#fff"/><circle cx="21" cy="15.1" r="7.3" fill="#fff"/><circle cx="21" cy="15.1" r="6.0" fill="#e0252a"/><path d="M18.3 15.2L20.3 17.2L23.9 13.3" fill="none" stroke="#fff" stroke-width="1.3"/></svg>
<span class="t" style='left:709.00px;top:1465.60px;font:700 27px/1 "Liberation Sans", sans-serif;letter-spacing:-0.631px;'>Fonte: eSocial. Rais 2024 e Portal Emprega Brasil - Fevereiro de 2025</span>
</div></body></html>
